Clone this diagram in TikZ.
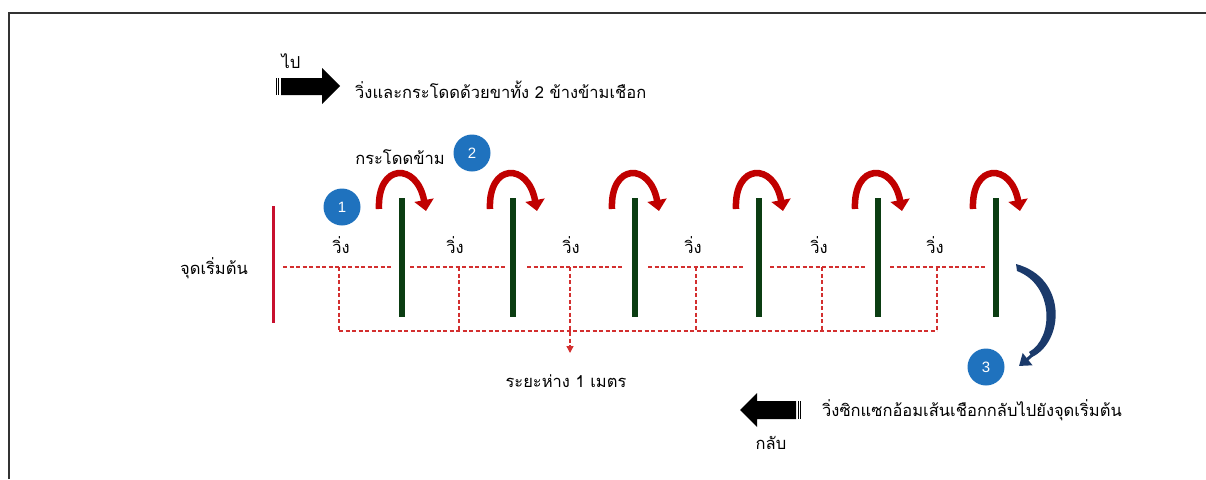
\documentclass[tikz,border=0pt]{standalone}
\usepackage{fontspec}
\newfontfamily\thaifont[Script=Thai]{Loma}
\newfontfamily\digitfont{Liberation Sans}
\usetikzlibrary{arrows.meta}
\definecolor{polegreen}{HTML}{0B3D12}
\definecolor{jumpred}{HTML}{C00000}
\definecolor{dashred}{HTML}{D32F2F}
\definecolor{badgeblue}{HTML}{1F72BE}
\definecolor{navyarrow}{HTML}{1B3A6B}
\definecolor{startred}{HTML}{C8102E}
\begin{document}
\begin{tikzpicture}[x=1pt,y=-1pt,
  lbl/.style={font=\thaifont\fontsize{16.5}{19}\selectfont, inner sep=0pt},
  badge/.style={circle, fill=badgeblue, text=white, minimum size=37pt, inner sep=0pt, font=\digitfont\fontsize{15}{15}\selectfont},
  pole/.style={draw=polegreen, line width=6pt},
  route/.style={draw=dashred, line width=1.3pt, dash pattern=on 4pt off 2.5pt},
  jump/.style={draw=jumpred, line width=6.5pt, -{Triangle[width=19pt,length=11pt]}},
  blockarrow/.style={fill=black},
]
\useasboundingbox (0,0) rectangle (1206,479);
% frame
\draw[line width=1.5pt, black!80] (9,479) -- (9,13) -- (1206,13);

% go arrow
\fill[blockarrow] (281,78) -- (322,78) -- (322,68) -- (340,86) -- (322,104) -- (322,95) -- (281,95) -- cycle;
\draw[line width=1pt] (276.5,78) -- (276.5,95);
\draw[line width=1pt] (278.8,78) -- (278.8,95);
\node[lbl] (go) at (291,61) {ไป};
\node[lbl, anchor=west] (gotext) at (355,90) {วิ่งและกระโดดด้วยขาทั้ง 2 ข้างข้ามเชือก};

% jump label
\node[lbl] (jumplbl) at (400,157) {กระโดดข้าม};
\node[badge] (b2) at (472,153) {2};
\node[badge] (b1) at (342,207) {1};

% start line
\draw[startred, line width=3pt] (273,206) -- (273,323);
\node[lbl] (start) at (214,268) {จุดเริ่มต้น};

% route top dashed segments
\foreach \a/\b [count=\i] in {283/393,410/507,527/623,648/745,770/867,890/987}{
  \coordinate (ts\i) at (\a,267);
  \coordinate (te\i) at (\b,267);
  \draw[route] (ts\i) -- (te\i);
}
% vertical dashes and run labels
\foreach \x/\lx [count=\i] in {339/341,459/455,570/571,696/693,822/819,937/935}{
  \coordinate (vt\i) at (\x,267);
  \coordinate (vb\i) at (\x,331);
  \node[lbl] (run\i) at (\lx,245) {วิ่ง};
}
\foreach \i in {1,2,4,5,6}{ \draw[route] (vt\i) -- (vb\i); }
\draw[route] (vb1) -- (vb6);
\coordinate (distarrow) at (570,353);
\draw[route, -{Triangle[width=7pt,length=7pt]}] (vt3) -- (distarrow);
\node[lbl] (dist) at (566,381) {ระยะห่าง 1 เมตร};

% poles and jump arrows
\foreach \p [count=\i] in {402,513,635,759,878,996}{
  \coordinate (pt\i) at (\p,198);
  \coordinate (pb\i) at (\p,317);
  \draw[pole] (pt\i) -- (pb\i);
  \coordinate (js\i) at (\p-23,209);
  \coordinate (je\i) at (\p+24,211);
  \draw[jump] (js\i) .. controls (\p-25,163) and (\p+15,162) .. (je\i);
}

% return arrow
\coordinate (rs) at (1017,267);
\coordinate (re) at (1019,366);
\fill[navyarrow] (1016,264) .. controls (1068,278) and (1064,342) .. (1032,357)
  -- (1029,352) .. controls (1054,338) and (1054,285) .. (1017,271) -- cycle;
\draw[navyarrow, line width=3pt, -{Triangle[width=15pt,length=11pt]}] (1040,348) .. controls (1034,354) .. (re);
\node[badge] (b3) at (986,367) {3};

% back arrow
\fill[blockarrow] (796,401) -- (757,401) -- (757,393) -- (740,410) -- (757,427) -- (757,419) -- (796,419) -- cycle;
\draw[line width=1pt] (798.5,401) -- (798.5,419);
\draw[line width=1pt] (800.8,401) -- (800.8,419);
\node[lbl, anchor=west] (backtext) at (822,410) {วิ่งซิกแซกอ้อมเส้นเชือกกลับไปยังจุดเริ่มต้น};
\node[lbl] (back) at (771,443) {กลับ};
\end{tikzpicture}
\end{document}
